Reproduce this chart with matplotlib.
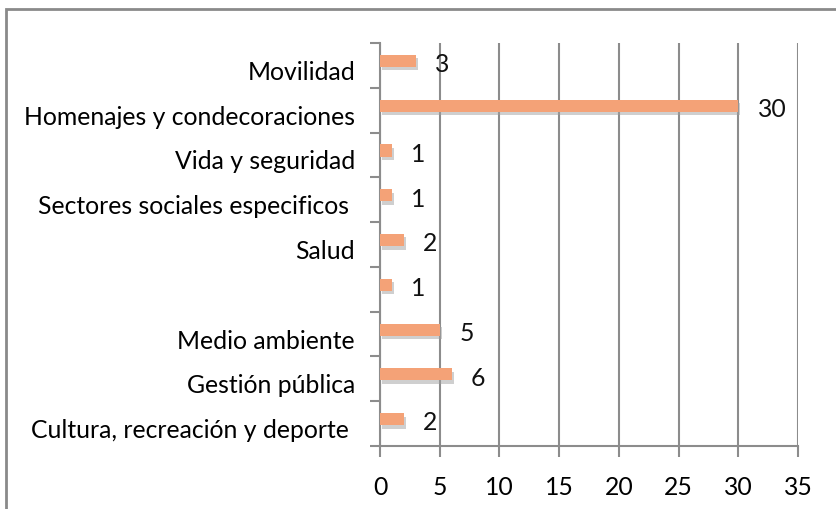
import matplotlib.pyplot as plt
import matplotlib.patheffects as pe
from matplotlib.patches import Rectangle
from matplotlib.transforms import ScaledTranslation

categorias = [
    "Cultura, recreación y deporte ",
    "Gestión pública",
    "Medio ambiente",
    "",
    "Salud",
    "Sectores sociales especificos ",
    "Vida y seguridad",
    "Homenajes y condecoraciones",
    "Movilidad",
]
valores = [2, 6, 5, 1, 2, 1, 1, 30, 3]
xticks = [0, 5, 10, 15, 20, 25, 30, 35]

plt.rcParams["font.family"] = ["Lato", "DejaVu Sans"]
gris = "#8c8c8c"
fs = 17.8

fig = plt.figure(figsize=(8.36, 5.10), dpi=100)
ax = fig.add_axes([380 / 836, 1 - 447 / 510, 418 / 836, 403 / 510])

pos = [i + 0.1 for i in range(len(categorias))]
bars = ax.barh(pos, valores, height=0.27, color="#f4a277", zorder=3)
for b in bars:
    b.set_path_effects([pe.SimplePatchShadow(offset=(1.5, -2.5), shadow_rgbFace="#a0a0a0", alpha=0.5),
                        pe.Normal()])

for p, v in zip(pos, valores):
    ax.annotate(str(v), (v, p), xytext=(14, -2), textcoords="offset points",
                ha="left", va="center", fontsize=fs, color="#111111")

ax.set_xlim(0, 35)
ax.set_ylim(-0.5, len(categorias) - 0.5)
ax.set_xticks(xticks)
ax.set_xticklabels([str(t) for t in xticks], fontsize=fs)

ax.set_yticks(range(len(categorias)))
ax.set_yticklabels(categorias, fontsize=fs)
ax.set_yticks([i - 0.5 for i in range(len(categorias) + 1)], minor=True)
ax.tick_params(axis="y", which="major", length=0, pad=18)
ax.tick_params(axis="y", which="minor", length=7, width=1.5, color=gris)
ax.tick_params(axis="x", length=8, width=1.5, color=gris, pad=13)
offset = ScaledTranslation(0, -4 / 100, fig.dpi_scale_trans)
for lab in ax.get_yticklabels():
    lab.set_transform(lab.get_transform() + offset)

ax.grid(axis="x", color=gris, linewidth=1.5, zorder=0)
for s in ["top", "right"]:
    ax.spines[s].set_visible(False)
for s in ["left", "bottom"]:
    ax.spines[s].set_color(gris)
    ax.spines[s].set_linewidth(1.5)

fig.patches.append(Rectangle((6 / 836, -0.1), 1.2, 1 - 10 / 510 + 0.1, transform=fig.transFigure,
                             fill=False, edgecolor="#8a8a8a", linewidth=2))

fig.savefig("out.png", dpi=100)
